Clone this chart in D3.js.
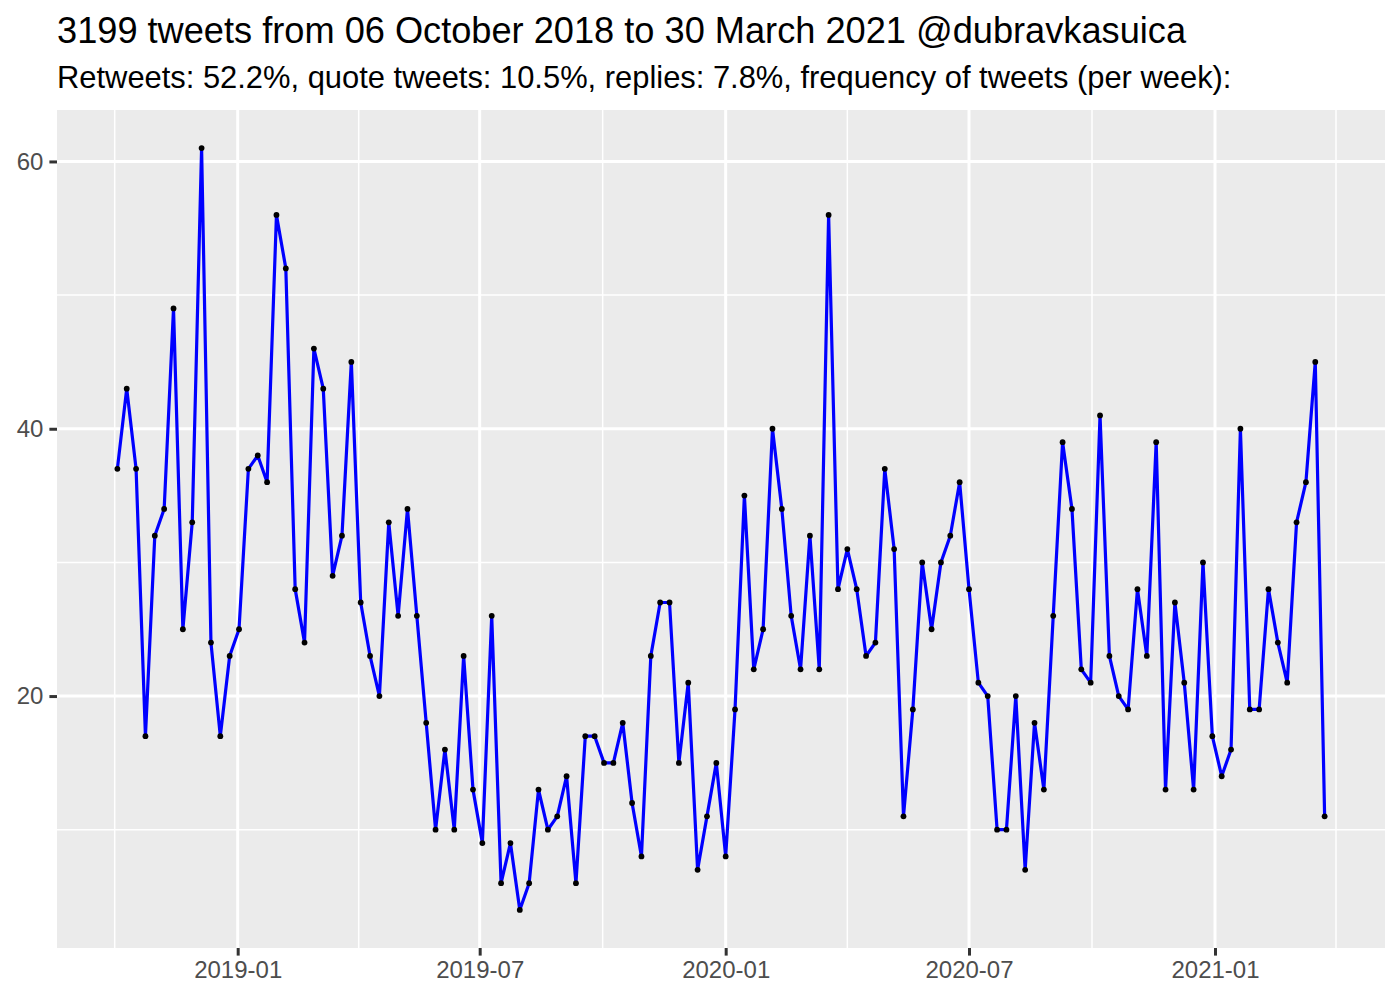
<!DOCTYPE html>
<html>
<head>
<meta charset="utf-8">
<script src="https://cdn.jsdelivr.net/npm/d3@7"></script>
<style>
  html, body { margin: 0; padding: 0; background: #ffffff; }
  svg { display: block; font-family: "Liberation Sans", Arial, Helvetica, sans-serif; }
</style>
</head>
<body>
<svg id="chart" width="1400" height="1000"></svg>
<script>
// ---- data ----
const titleText = "3199 tweets from 06 October 2018 to 30 March 2021 @dubravkasuica";
const subtitleText = "Retweets: 52.2%, quote tweets: 10.5%, replies: 7.8%, frequency of tweets (per week):";

const weeks = [
  "2018-10-03","2018-10-10","2018-10-17","2018-10-24","2018-10-31","2018-11-07","2018-11-14","2018-11-21","2018-11-28",
  "2018-12-05","2018-12-12","2018-12-19","2018-12-26",
  "2019-01-02","2019-01-09","2019-01-16","2019-01-23","2019-01-30","2019-02-06","2019-02-13","2019-02-20","2019-02-27",
  "2019-03-06","2019-03-13","2019-03-20","2019-03-27","2019-04-03","2019-04-10","2019-04-17","2019-04-24",
  "2019-05-01","2019-05-08","2019-05-15","2019-05-22","2019-05-29","2019-06-05","2019-06-12","2019-06-19","2019-06-26",
  "2019-07-03","2019-07-10","2019-07-17","2019-07-24","2019-07-31","2019-08-07","2019-08-14","2019-08-21","2019-08-28",
  "2019-09-04","2019-09-11","2019-09-18","2019-09-25","2019-10-02","2019-10-09","2019-10-16","2019-10-23","2019-10-30",
  "2019-11-06","2019-11-13","2019-11-20","2019-11-27","2019-12-04","2019-12-11","2019-12-18","2019-12-25",
  "2020-01-01","2020-01-08","2020-01-15","2020-01-22","2020-01-29","2020-02-05","2020-02-12","2020-02-19","2020-02-26",
  "2020-03-04","2020-03-11","2020-03-18","2020-03-25","2020-04-01","2020-04-08","2020-04-15","2020-04-22","2020-04-29",
  "2020-05-06","2020-05-13","2020-05-20","2020-05-27","2020-06-03","2020-06-10","2020-06-17","2020-06-24",
  "2020-07-01","2020-07-08","2020-07-15","2020-07-22","2020-07-29","2020-08-05","2020-08-12","2020-08-19","2020-08-26",
  "2020-09-02","2020-09-09","2020-09-16","2020-09-23","2020-09-30","2020-10-07","2020-10-14","2020-10-21","2020-10-28",
  "2020-11-04","2020-11-11","2020-11-18","2020-11-25","2020-12-02","2020-12-09","2020-12-16","2020-12-23","2020-12-30",
  "2021-01-06","2021-01-13","2021-01-20","2021-01-27","2021-02-03","2021-02-10","2021-02-17","2021-02-24",
  "2021-03-03","2021-03-10","2021-03-17","2021-03-24"
];

const tweetCounts = [
  37,43,37,17,32,34,49,25,33,61,24,17,23,25,37,38,36,56,
  52,28,24,46,43,29,32,45,27,23,20,33,26,34,26,18,10,16,
  10,23,13,9,26,6,9,4,6,13,10,11,14,6,17,17,15,15,
  18,12,8,23,27,27,15,21,7,11,15,8,19,35,22,25,40,34,26,
  22,32,22,56,28,31,28,23,24,37,31,11,19,30,25,30,32,36,
  28,21,20,10,10,20,7,18,13,26,39,34,22,21,41,23,20,19,
  28,23,39,13,27,21,13,30,17,14,16,40,19,19,28,24,21,33,36,45,11
];

const xTickLabels = ["2019-01","2019-07","2020-01","2020-07","2021-01"];
const yTickValues = [20, 40, 60];
const yMinorValues = [10, 30, 50];

// ---- layout ----
const panel = { left: 57, right: 1385, top: 110, bottom: 948 };
const parse = d3.utcParse("%Y-%m-%d");
const parseMonth = d3.utcParse("%Y-%m");
const data = weeks.map((w, i) => ({ date: parse(w), n: tweetCounts[i] }));

const svg = d3.select("#chart");

// ggplot-like 5% expansion
const tExt = d3.extent(data, d => d.date);
const tPad = (tExt[1] - tExt[0]) * 0.05;
const x = d3.scaleUtc()
  .domain([new Date(+tExt[0] - tPad), new Date(+tExt[1] + tPad)])
  .range([panel.left, panel.right]);

const yExt = d3.extent(data, d => d.n);
const yPad = (yExt[1] - yExt[0]) * 0.05;
const y = d3.scaleLinear()
  .domain([yExt[0] - yPad, yExt[1] + yPad])
  .range([panel.bottom, panel.top]);

// panel background
svg.append("rect")
  .attr("x", panel.left).attr("y", panel.top)
  .attr("width", panel.right - panel.left).attr("height", panel.bottom - panel.top)
  .attr("fill", "#EBEBEB");

const majorDates = xTickLabels.map(s => parseMonth(s));
// minor breaks: midpoints between consecutive major breaks (incl. outside ones)
const extMajors = [d3.utcMonth.offset(majorDates[0], -6), ...majorDates, d3.utcMonth.offset(majorDates[majorDates.length - 1], 6)];
const minorDates = [];
for (let i = 0; i < extMajors.length - 1; i++) {
  const m = new Date((+extMajors[i] + +extMajors[i + 1]) / 2);
  if (m >= x.domain()[0] && m <= x.domain()[1]) minorDates.push(m);
}

const grid = svg.append("g");
grid.selectAll(".hminor").data(yMinorValues).join("line")
  .attr("x1", panel.left).attr("x2", panel.right)
  .attr("y1", d => y(d)).attr("y2", d => y(d))
  .attr("stroke", "#ffffff").attr("stroke-width", 1.5);
grid.selectAll(".vminor").data(minorDates).join("line")
  .attr("x1", d => x(d)).attr("x2", d => x(d))
  .attr("y1", panel.top).attr("y2", panel.bottom)
  .attr("stroke", "#ffffff").attr("stroke-width", 1.5);
grid.selectAll(".hmajor").data(yTickValues).join("line")
  .attr("x1", panel.left).attr("x2", panel.right)
  .attr("y1", d => y(d)).attr("y2", d => y(d))
  .attr("stroke", "#ffffff").attr("stroke-width", 3);
grid.selectAll(".vmajor").data(majorDates).join("line")
  .attr("x1", d => x(d)).attr("x2", d => x(d))
  .attr("y1", panel.top).attr("y2", panel.bottom)
  .attr("stroke", "#ffffff").attr("stroke-width", 3);

// line + points
const line = d3.line().x(d => x(d.date)).y(d => y(d.n));
svg.append("path").datum(data)
  .attr("d", line)
  .attr("fill", "none")
  .attr("stroke", "#0000FF")
  .attr("stroke-width", 3.2)
  .attr("stroke-linejoin", "round");

svg.append("g").selectAll("circle").data(data).join("circle")
  .attr("cx", d => x(d.date)).attr("cy", d => y(d.n))
  .attr("r", 2.9).attr("fill", "#000000");

// axes
const xAxis = d3.axisBottom(x)
  .tickValues(majorDates)
  .tickFormat(d3.utcFormat("%Y-%m"))
  .tickSize(7.6).tickPadding(5.5);
const gx = svg.append("g").attr("transform", `translate(0,${panel.bottom})`).call(xAxis);
gx.select(".domain").remove();
gx.selectAll(".tick line").attr("stroke", "#333333").attr("stroke-width", 3);
gx.selectAll(".tick text").attr("fill", "#4D4D4D").style("font-size", "24px")
  .style("font-family", "'Liberation Sans', Arial, sans-serif");

const yAxis = d3.axisLeft(y)
  .tickValues(yTickValues)
  .tickSize(7.6).tickPadding(6);
const gy = svg.append("g").attr("transform", `translate(${panel.left},0)`).call(yAxis);
gy.select(".domain").remove();
gy.selectAll(".tick line").attr("stroke", "#333333").attr("stroke-width", 3);
gy.selectAll(".tick text").attr("fill", "#4D4D4D").style("font-size", "24px")
  .style("font-family", "'Liberation Sans', Arial, sans-serif");

// titles
svg.append("text").attr("x", 57).attr("y", 43)
  .attr("fill", "#000000").style("font-size", "36.2px")
  .text(titleText);
svg.append("text").attr("x", 57).attr("y", 88)
  .attr("fill", "#000000").style("font-size", "30.9px")
  .text(subtitleText);
</script>
</body>
</html>
